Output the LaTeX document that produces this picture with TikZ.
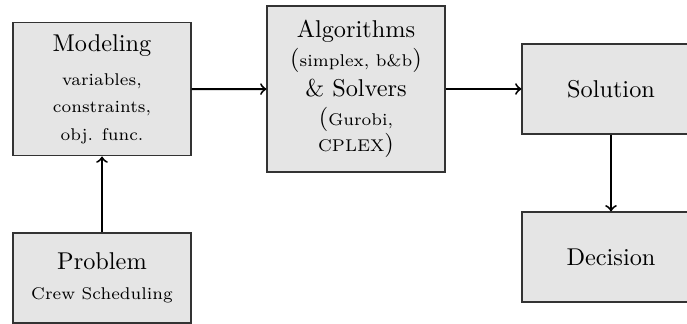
\documentclass[tikz,border=0pt]{standalone}
\usetikzlibrary{arrows}
\newcommand{\smtext}{\fontsize{7}{10}\selectfont}
\begin{document}
\begin{tikzpicture}[x=0.41152pt,y=-0.41152pt,
  box/.style={draw=black!80,fill=gray!20,line width=0.5pt,align=center,inner sep=0pt,minimum width=73.2pt},
  conn/.style={->,thick}]
\useasboundingbox (0,0) rectangle (687,324);
\node[box,minimum height=54.8pt] (model) at (102,89.3) {Modeling\\[1.8pt]\smtext variables,\\[-0.6pt]\smtext constraints,\\[-0.6pt]\smtext obj. func.};
\node[box,minimum height=68.3pt] (algo) at (356,89) {Algorithms\\(\scriptsize simplex, b\&b\normalsize)\\\& Solvers\\(\scriptsize Gurobi,\\[-1.2pt]\scriptsize CPLEX\normalsize)};
\node[box,minimum height=37pt] (sol) at (611,89) {Solution};
\node[box,minimum height=37pt] (dec) at (611,257) {Decision};
\node[box,minimum height=37pt] (prob) at (102,278) {Problem\\[0.5pt]\scriptsize Crew Scheduling};
\draw[conn] (prob) -- (model);
\draw[conn] (model) -- (algo);
\draw[conn] (algo) -- (sol);
\draw[conn] (sol) -- (dec);
\end{tikzpicture}
\end{document}
